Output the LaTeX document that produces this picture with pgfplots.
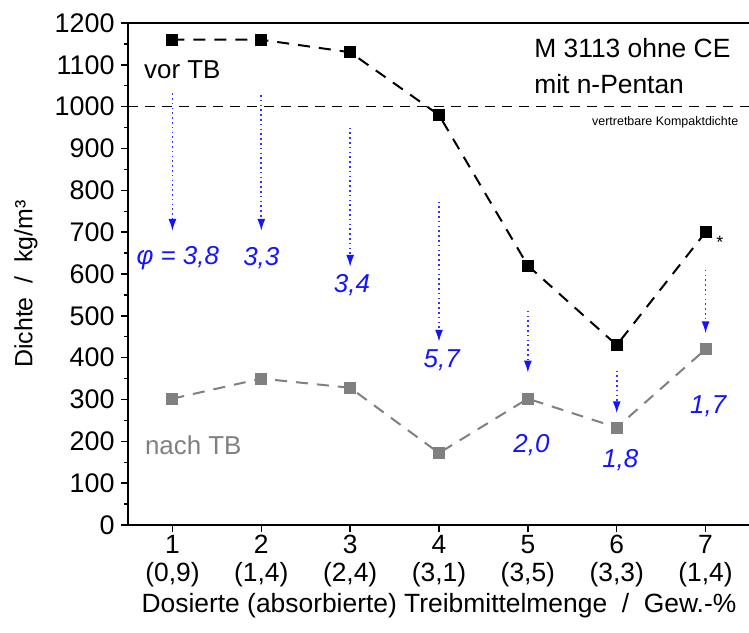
\documentclass[border=0pt]{standalone}
\usepackage{fontspec}
\setmainfont{Liberation Sans}
\usepackage{pgfplots}
\pgfplotsset{compat=1.18}
\usetikzlibrary{arrows.meta}
\definecolor{myblue}{RGB}{20,20,255}
\definecolor{dotblue}{RGB}{50,50,255}
\definecolor{mygray}{RGB}{128,128,128}
\begin{document}
\begin{tikzpicture}
\begin{axis}[
  scale only axis, width=622bp, height=502bp,
  xmin=0.5, xmax=7.5, ymin=0, ymax=1200,
  axis x line*=bottom, axis y line*=left,
  axis line style={line width=1.6bp},
  xtick={1,2,3,4,5,6,7},
  xticklabels={{1\\(0,9)},{2\\(1,4)},{3\\(2,4)},{4\\(3,1)},{5\\(3,5)},{6\\(3,3)},{7\\(1,4)}},
  xticklabel style={align=center, font=\fontsize{26.5}{28}\selectfont},
  ytick={0,100,...,1200},
  minor y tick num=1,
  tick align=outside,
  major tick length=7bp, minor tick length=4bp,
  tick style={line width=1.4bp, black},
  yticklabel style={font=\fontsize{27}{28}\selectfont, xshift=-3bp},
  /pgf/number format/assume math mode=true,
  /pgf/number format/1000 sep={},
  xlabel={Dosierte (absorbierte) Treibmittelmenge \ / \ Gew.-\%},
  ylabel={Dichte \ / \ kg/m³},
  xlabel style={font=\fontsize{26.5}{28}\selectfont, at={(axis description cs:0.5,0)}, anchor=center, yshift=-81bp},
  ylabel style={font=\fontsize{25}{28}\selectfont, at={(axis description cs:-0.164,0.48)}, anchor=center},
  clip=false,
]
% reference line
\addplot[black, line width=1.6bp, dash pattern=on 10bp off 7bp] coordinates {(0.5,1000) (7.5,1000)};
% vor TB
\addplot[black, line width=2bp, dash pattern=on 12bp off 9bp, mark=square*, mark size=5bp, mark options={solid, fill=black}]
  coordinates {(1,1160) (2,1160) (3,1130) (4,980) (5,620) (6,430) (7,700)};
% nach TB
\addplot[mygray, line width=2bp, dash pattern=on 12bp off 9bp, mark=square*, mark size=5bp, mark options={solid, fill=mygray}]
  coordinates {(1,302) (2,350) (3,328) (4,172) (5,302) (6,233) (7,420)};
% arrows
\pgfplotsset{arr/.style={dotblue, line width=1.6bp, dash pattern=on 1.6bp off 3.2bp, -{Latex[length=12bp,width=8bp,fill=myblue,color=myblue]}}}
\addplot[arr] coordinates {(1,1032) (1,703)};
\addplot[arr] coordinates {(2,1028) (2,703)};
\addplot[arr] coordinates {(3,950) (3,617)};
\addplot[arr] coordinates {(4,773) (4,438)};
\addplot[arr] coordinates {(5,512) (5,364)};
\addplot[arr] coordinates {(6,369) (6,267)};
\addplot[arr] coordinates {(7,610) (7,458)};
% top spine
\draw[line width=1.6bp] (rel axis cs:0,1) -- (rel axis cs:1,1);
% texts
\node[anchor=west, font=\fontsize{26}{28}\selectfont, inner sep=0pt] at (axis cs:0.68,1088) {vor TB};
\node[anchor=west, font=\fontsize{26}{28}\selectfont, inner sep=0pt, text=mygray] at (axis cs:0.69,191) {nach TB};
\node[anchor=west, font=\fontsize{26.5}{28}\selectfont, inner sep=0pt] at (axis cs:5.07,1140) {M 3113 ohne CE};
\node[anchor=west, font=\fontsize{26.5}{28}\selectfont, inner sep=0pt] at (axis cs:5.07,1054) {mit n-Pentan};
\node[anchor=east, font=\fontsize{12.5}{14}\selectfont, inner sep=0pt] at (axis cs:7.37,962) {vertretbare Kompaktdichte};
\node[font=\fontsize{18}{18}\selectfont, inner sep=0pt] at (axis cs:7.16,675) {*};
\begin{scope}[every node/.style={font=\fontsize{26}{28}\selectfont\itshape, text=myblue, inner sep=0pt}]
\node at (axis cs:1.06,638) {φ = 3,8};
\node at (axis cs:2.0,638) {3,3};
\node at (axis cs:3.02,574) {3,4};
\node at (axis cs:4.03,394) {5,7};
\node at (axis cs:5.04,191) {2,0};
\node at (axis cs:6.04,155) {1,8};
\node at (axis cs:7.03,283) {1,7};
\end{scope}
\coordinate (sw) at (rel axis cs:0,0);
\coordinate (ne) at (rel axis cs:1,1);
\end{axis}
\pgfresetboundingbox
\path[use as bounding box] ([shift={(-128bp,-107bp)}]sw) rectangle ([shift={(-1bp,23bp)}]ne);
\end{tikzpicture}
\end{document}
